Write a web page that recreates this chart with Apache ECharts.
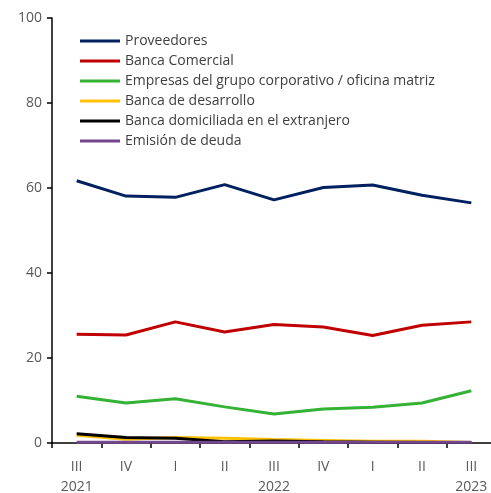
<!DOCTYPE html>
<html>
<head>
<meta charset="utf-8">
<script src="https://cdn.jsdelivr.net/npm/echarts@6/dist/echarts.min.js"></script>
<style>
  html, body { margin: 0; padding: 0; background: #fff; }
  #chart { width: 491px; height: 493px; }
</style>
</head>
<body>
<div id="chart"></div>
<script>
// quarters, with the year under each third quarter
const quarters = ['III\n2021', 'IV', 'I', 'II', 'III\n2022', 'IV', 'I', 'II', 'III\n2023']

const proveedores = [61.7, 58.1, 57.8, 60.8, 57.2, 60.1, 60.7, 58.3, 56.5]
const bancaComercial = [25.6, 25.4, 28.5, 26.1, 27.9, 27.3, 25.3, 27.7, 28.5]
const grupoCorporativo = [11.0, 9.4, 10.4, 8.5, 6.8, 8.0, 8.4, 9.4, 12.3]
const bancaDesarrollo = [1.8, 0.9, 1.3, 1.1, 0.8, 0.6, 0.4, 0.4, 0.1]
const bancaExtranjero = [2.2, 1.3, 1.1, 0.3, 0.5, 0.3, 0.2, 0.1, 0.1]
const emisionDeuda = [0.2, 0.2, 0.2, 0.2, 0.2, 0.2, 0.2, 0.2, 0.2]

const font = '"Open Sans", Lato, sans-serif'

const mk = (name, data, color) => ({
  name, type: 'line', data,
  symbol: 'none',
  lineStyle: { color, width: 3 },
  itemStyle: { color }
})

const chart = echarts.init(document.getElementById('chart'))
chart.setOption({
  animation: false,
  textStyle: { fontFamily: font },
  grid: { left: 52, top: 18, right: -5, bottom: 50, outerBoundsMode: 'none' },
  legend: {
    orient: 'vertical',
    left: 80, top: 34,
    padding: 0,
    itemGap: 6,
    itemWidth: 40, itemHeight: 3,
    icon: 'rect',
    itemTextGap: 4,
    textStyle: { fontFamily: font, fontSize: 14, color: '#404040', lineHeight: 14 },
    data: ['Proveedores', 'Banca Comercial', 'Empresas del grupo corporativo / oficina matriz',
      'Banca de desarrollo', 'Banca domiciliada en el extranjero', 'Emisión de deuda']
  },
  xAxis: {
    type: 'category',
    data: quarters,
    axisLine: { lineStyle: { color: '#000', width: 1.5 } },
    axisTick: { show: true, length: 5, lineStyle: { color: '#000', width: 1.5 } },
    axisLabel: { color: '#595959', fontSize: 14, fontFamily: font, margin: 14, lineHeight: 20 }
  },
  yAxis: {
    type: 'value',
    min: 0, max: 100, interval: 20,
    splitLine: { show: false },
    axisLine: { show: true, lineStyle: { color: '#000', width: 1.5 } },
    axisTick: { show: true, length: 5, lineStyle: { color: '#000', width: 1.5 } },
    axisLabel: { color: '#595959', fontSize: 14, fontFamily: font, margin: 10 }
  },
  series: [
    mk('Proveedores', proveedores, '#002060'),
    mk('Banca Comercial', bancaComercial, '#C00000'),
    mk('Empresas del grupo corporativo / oficina matriz', grupoCorporativo, '#33B233'),
    mk('Banca de desarrollo', bancaDesarrollo, '#FFC000'),
    mk('Banca domiciliada en el extranjero', bancaExtranjero, '#000000'),
    mk('Emisión de deuda', emisionDeuda, '#74468C')
  ]
})
</script>
</body>
</html>
